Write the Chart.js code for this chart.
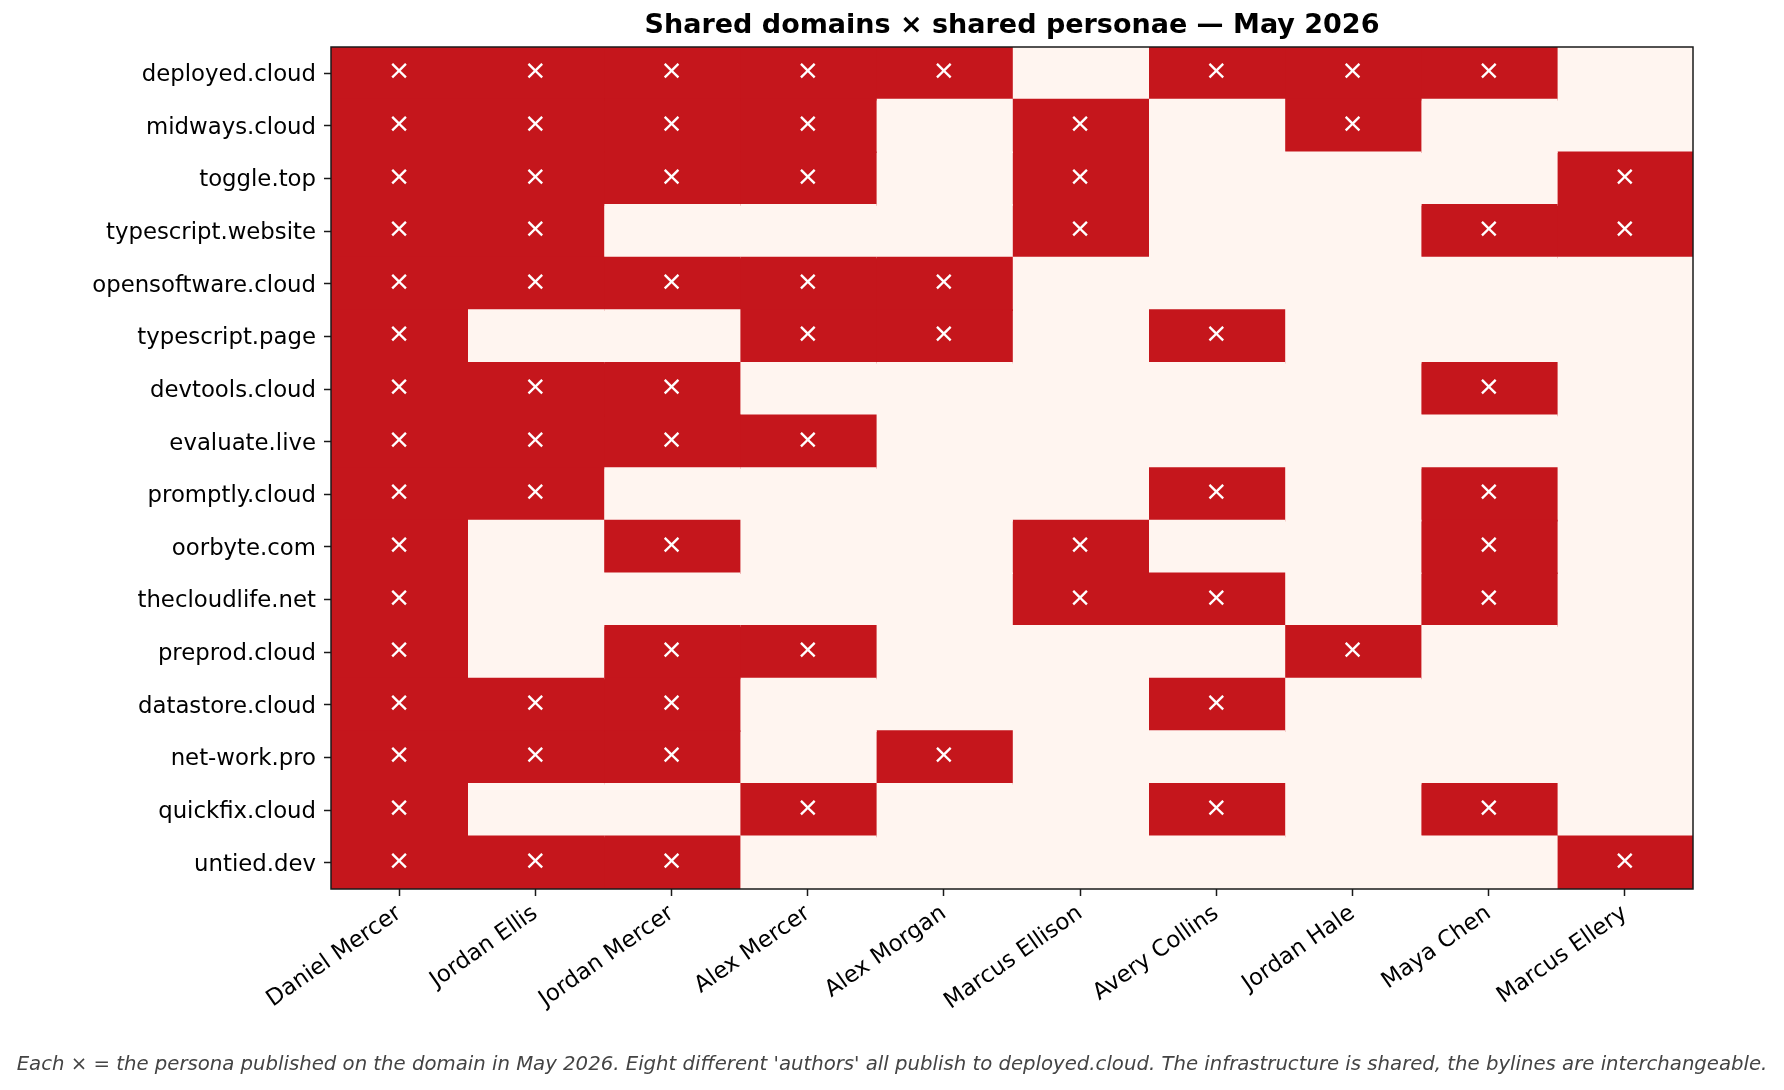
<!DOCTYPE html>
<html>
<head>
<meta charset="utf-8">
<script src="https://cdn.jsdelivr.net/npm/chart.js@4"></script>
<style>
  html, body { margin: 0; padding: 0; background: #ffffff; }
  #wrap { width: 1784px; height: 1090px; position: relative; }
</style>
</head>
<body>
<div id="wrap"><canvas id="c" width="1784" height="1090"></canvas></div>
<script>
const titleText = "Shared domains \u00d7 shared personae \u2014 May 2026";
const captionText = "Each \u00d7 = the persona published on the domain in May 2026. Eight different 'authors' all publish to deployed.cloud. The infrastructure is shared, the bylines are interchangeable.";

const domains = [
  "deployed.cloud", "midways.cloud", "toggle.top", "typescript.website",
  "opensoftware.cloud", "typescript.page", "devtools.cloud", "evaluate.live",
  "promptly.cloud", "oorbyte.com", "thecloudlife.net", "preprod.cloud",
  "datastore.cloud", "net-work.pro", "quickfix.cloud", "untied.dev"
];

const personas = [
  "Daniel Mercer", "Jordan Ellis", "Jordan Mercer", "Alex Mercer", "Alex Morgan",
  "Marcus Ellison", "Avery Collins", "Jordan Hale", "Maya Chen", "Marcus Ellery"
];

// 1 = persona published on the domain (rows follow `domains`, columns follow `personas`)
const published = [
  [1,1,1,1,1,0,1,1,1,0],
  [1,1,1,1,0,1,0,1,0,0],
  [1,1,1,1,0,1,0,0,0,1],
  [1,1,0,0,0,1,0,0,1,1],
  [1,1,1,1,1,0,0,0,0,0],
  [1,0,0,1,1,0,1,0,0,0],
  [1,1,1,0,0,0,0,0,1,0],
  [1,1,1,1,0,0,0,0,0,0],
  [1,1,0,0,0,0,1,0,1,0],
  [1,0,1,0,0,1,0,0,1,0],
  [1,0,0,0,0,1,1,0,1,0],
  [1,0,1,1,0,0,0,1,0,0],
  [1,1,1,0,0,0,1,0,0,0],
  [1,1,1,0,1,0,0,0,0,0],
  [1,0,0,1,0,0,1,0,1,0],
  [1,1,1,0,0,0,0,0,0,1]
];

const RED = "#c5161c";
const LIGHT = "#fff5f0";
const FONT = "'DejaVu Sans', 'Liberation Sans', sans-serif";

const datasets = personas.map((p, pi) => ({
  label: p,
  data: domains.map(() => 1),
  backgroundColor: domains.map((d, di) => published[di][pi] ? RED : LIGHT),
  borderWidth: 0,
  inflateAmount: 0.8,
  barPercentage: 1.0,
  categoryPercentage: 1.0,
  stack: "grid"
}));

const decor = {
  id: "decor",
  afterDatasetsDraw(chart) {
    const { ctx, scales: { x, y } } = chart;
    ctx.save();
    ctx.fillStyle = "#ffffff";
    ctx.font = "27px " + FONT;
    ctx.textAlign = "center";
    ctx.textBaseline = "middle";
    published.forEach((row, di) => {
      row.forEach((v, pi) => {
        if (v) ctx.fillText("\u00d7", x.getPixelForValue(pi + 0.5), y.getPixelForValue(di) - 1);
      });
    });
    ctx.restore();
  },
  afterDraw(chart) {
    const { ctx, chartArea: a } = chart;
    ctx.save();
    ctx.strokeStyle = "#1a1a1a";
    ctx.lineWidth = 1.5;
    ctx.strokeRect(a.left, a.top, a.right - a.left, a.bottom - a.top);
    ctx.fillStyle = "#000000";
    ctx.font = "bold 27px " + FONT;
    ctx.textAlign = "center";
    ctx.textBaseline = "middle";
    ctx.fillText(titleText, (a.left + a.right) / 2, 26);
    ctx.fillStyle = "#444444";
    ctx.font = "italic 19.7px " + FONT;
    ctx.fillText(captionText, chart.width / 2, 1065);
    ctx.restore();
  }
};

new Chart(document.getElementById("c"), {
  type: "bar",
  data: { labels: domains, datasets },
  plugins: [decor],
  options: {
    indexAxis: "y",
    responsive: false,
    animation: false,
    layout: { padding: { left: 0, right: 91, top: 47, bottom: 0 } },
    plugins: { legend: { display: false }, tooltip: { enabled: false }, title: { display: false } },
    scales: {
      x: {
        type: "linear",
        stacked: true,
        min: 0,
        max: personas.length,
        afterBuildTicks: (s) => { s.ticks = personas.map((p, i) => ({ value: i + 0.5 })); },
        afterFit: (s) => { s.height = 201; },
        ticks: {
          autoSkip: false,
          minRotation: 35,
          maxRotation: 35,
          padding: 4,
          color: "#000000",
          font: { family: FONT, size: 22.8 },
          callback: (v, i) => personas[i]
        },
        grid: { drawOnChartArea: false, drawTicks: true, tickLength: 7, tickColor: "#1a1a1a", tickWidth: 1.5 },
        border: { display: false }
      },
      y: {
        type: "category",
        stacked: true,
        afterFit: (s) => { s.width = 331; },
        ticks: {
          autoSkip: false,
          padding: 8,
          labelOffset: 2,
          color: "#000000",
          font: { family: FONT, size: 22.8 }
        },
        grid: { offset: false, drawOnChartArea: false, drawTicks: true, tickLength: 7, tickColor: "#1a1a1a", tickWidth: 1.5 },
        border: { display: false }
      }
    }
  }
});
</script>
</body>
</html>
